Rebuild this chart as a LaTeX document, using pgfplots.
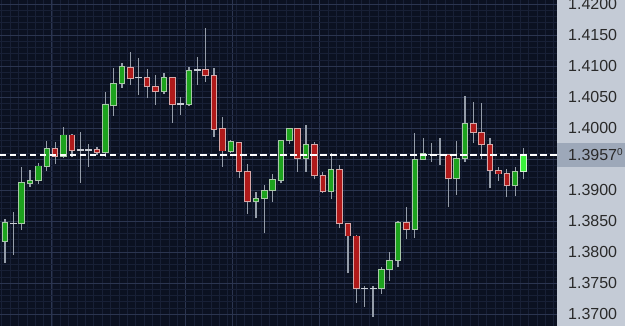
\documentclass[border=0pt]{standalone}
\usepackage{pgfplots}
\pgfplotsset{compat=1.18}
\usepackage{pgfplotstable}
\usepackage{fontspec}
\setmainfont{Liberation Sans}

\definecolor{bgnavy}{HTML}{0B1121}
\definecolor{gridmaj}{HTML}{2B3550}
\definecolor{gridmin}{HTML}{182036}
\definecolor{greenfill}{HTML}{1DA31D}
\definecolor{greenborder}{HTML}{A8C8A8}
\definecolor{redfill}{HTML}{B01A1A}
\definecolor{redborder}{HTML}{D8A8A8}
\definecolor{brightgreen}{HTML}{3AF03A}
\definecolor{brightborder}{HTML}{D0F0D0}
\definecolor{wick}{HTML}{959DA9}
\definecolor{dojicol}{HTML}{C8CCD4}
\definecolor{panel}{HTML}{C4CBD6}
\definecolor{hilite}{HTML}{9DA8B9}
\definecolor{labeltext}{HTML}{2A2A2A}

% i  Open  High  Low  Close
\pgfplotstableread{
i O H L C
0 1.38177 1.38532 1.37823 1.38468
2 1.38452 1.39376 1.38355 1.39118
3 1.39108 1.39323 1.39053 1.39161
4 1.39150 1.39440 1.39097 1.39387
5 1.39376 1.39795 1.39311 1.39677
7 1.39548 1.40021 1.39511 1.39887
12 1.39602 1.40585 1.39537 1.40371
13 1.40355 1.40963 1.40194 1.40721
14 1.40721 1.41053 1.40650 1.40989
19 1.40585 1.40892 1.40548 1.40818
22 1.40382 1.40989 1.40355 1.40935
27 1.39618 1.39800 1.39600 1.39779
30 1.38811 1.38973 1.38544 1.38866
31 1.38866 1.39081 1.38302 1.38989
32 1.38989 1.39258 1.38811 1.39173
33 1.39161 1.39800 1.39108 1.39795
34 1.39795 1.40000 1.39742 1.39995
36 1.39511 1.40048 1.39295 1.39726
39 1.38973 1.39592 1.38850 1.39334
45 1.37415 1.37763 1.37323 1.37721
46 1.37721 1.38005 1.37537 1.37860
47 1.37860 1.38505 1.37753 1.38473
49 1.38366 1.39915 1.38221 1.39495
50 1.39495 1.39834 1.39495 1.39592
54 1.39189 1.39795 1.38919 1.39511
55 1.39511 1.40516 1.39456 1.40076
61 1.39065 1.39376 1.38903 1.39295
}\greentab

\pgfplotstableread{
i O H L C
6 1.39677 1.39779 1.39419 1.39548
8 1.39887 1.39900 1.39532 1.39634
11 1.39656 1.39689 1.39565 1.39602
15 1.40979 1.41231 1.40694 1.40802
17 1.40818 1.40947 1.40479 1.40677
18 1.40677 1.40855 1.40371 1.40585
20 1.40818 1.40830 1.40085 1.40382
24 1.40947 1.41608 1.40747 1.40839
25 1.40839 1.40963 1.39860 1.39979
26 1.39989 1.40182 1.39376 1.39629
28 1.39763 1.39779 1.39189 1.39295
29 1.39295 1.39419 1.38613 1.38811
35 1.39995 1.40000 1.39295 1.39511
37 1.39726 1.39779 1.39173 1.39226
38 1.39226 1.39295 1.38957 1.38973
40 1.39334 1.39403 1.38382 1.38463
41 1.38463 1.38470 1.37656 1.38258
42 1.38258 1.38274 1.37182 1.37415
48 1.38473 1.38721 1.38205 1.38366
53 1.39565 1.39580 1.38721 1.39189
56 1.40076 1.40424 1.39763 1.39924
57 1.39924 1.40398 1.39495 1.39726
58 1.39726 1.39834 1.39027 1.39311
59 1.39311 1.39366 1.39150 1.39258
60 1.39269 1.39334 1.38882 1.39065
}\redtab

\pgfplotstableread{
i O H L C
1 1.38463 1.38650 1.37952 1.38463
9 1.39645 1.39940 1.39118 1.39645
10 1.39645 1.39742 1.39376 1.39645
16 1.40811 1.41124 1.40532 1.40811
21 1.40387 1.40495 1.40210 1.40387
23 1.40935 1.41140 1.40694 1.40935
43 1.37415 1.37452 1.37118 1.37415
44 1.37415 1.37452 1.36956 1.37415
51 1.39576 1.39753 1.39456 1.39576
52 1.39576 1.39834 1.39403 1.39576
}\dojitab

\pgfplotstableread{
i O H L C
62 1.39295 1.39672 1.39173 1.39570
}\lasttab

\pgfplotsset{
  wickstyle/.style={draw=none, mark=none, forget plot,
    error bars/.cd, y dir=plus, y explicit, error mark=none,
    error bar style={draw=wick, solid, line width=1.3pt}},
  bodystyle/.style 2 args={draw=none, mark=none, forget plot,
    error bars/.cd, y dir=plus, y explicit, error mark=none,
    error bar style={draw=#2, solid, line width=#1}},
}

\begin{document}
\begin{tikzpicture}
\useasboundingbox (0,0) rectangle (625pt,326pt);
\clip (0,0) rectangle (625pt,326pt);
\fill[panel] (557pt,0) rectangle (625pt,326pt);
\fill[hilite] (557pt,159pt) rectangle (625pt,183pt);
\begin{axis}[
  at={(0,0)}, anchor=south west,
  width=557pt, height=326pt, scale only axis,
  xmin=-0.6, xmax=66, ymin=1.368065, ymax=1.420645,
  axis background/.style={fill=bgnavy},
  axis line style={draw=none},
  xtick={5.6,21.6,27.15,37.6}, xticklabels={},
  minor xtick={-0.4,0.6,...,65.6},
  ytick={1.370,1.375,1.380,1.385,1.390,1.395,1.400,1.405,1.410,1.415,1.420},
  yticklabels={1.3700,1.3750,1.3800,1.3850,1.3900,{},1.4000,1.4050,1.4100,1.4150,1.4200},
  minor y tick num=4,
  grid=both,
  major grid style={color=gridmaj, line width=0.8pt},
  minor grid style={color=gridmin, line width=0.5pt},
  major tick length=0pt, minor tick length=0pt,
  yticklabel pos=right,
  yticklabel style={anchor=west, inner sep=0pt, xshift=11pt,
    font=\fontsize{16}{16}\selectfont, text=labeltext},
  extra y ticks={1.3957},
  extra y tick labels={1.3957\raisebox{5pt}{\fontsize{10}{10}\selectfont 0}},
  extra y tick style={grid=none},
]
% wicks
\addplot[wickstyle] table[x=i, y=L, y error plus expr={\thisrow{H}-\thisrow{L}}]{\greentab};
\addplot[wickstyle] table[x=i, y=L, y error plus expr={\thisrow{H}-\thisrow{L}}]{\redtab};
\addplot[wickstyle] table[x=i, y=L, y error plus expr={\thisrow{H}-\thisrow{L}}]{\dojitab};
\addplot[wickstyle] table[x=i, y=L, y error plus expr={\thisrow{H}-\thisrow{L}}]{\lasttab};
% doji bars
\addplot[bodystyle={7pt}{dojicol}] table[x=i, y expr={\thisrow{O}-0.00012}, y error plus expr={0.00024}]{\dojitab};
% green bodies
\addplot[bodystyle={6.5pt}{greenborder}] table[x=i, y expr={min(\thisrow{O},\thisrow{C})-0.00008}, y error plus expr={abs(\thisrow{C}-\thisrow{O})+0.00016}]{\greentab};
\addplot[bodystyle={4.5pt}{greenfill}] table[x=i, y expr={min(\thisrow{O},\thisrow{C})+0.00008}, y error plus expr={abs(\thisrow{C}-\thisrow{O})-0.00016}]{\greentab};
% red bodies
\addplot[bodystyle={6.5pt}{redborder}] table[x=i, y expr={min(\thisrow{O},\thisrow{C})-0.00008}, y error plus expr={abs(\thisrow{C}-\thisrow{O})+0.00016}]{\redtab};
\addplot[bodystyle={4.5pt}{redfill}] table[x=i, y expr={min(\thisrow{O},\thisrow{C})+0.00008}, y error plus expr={abs(\thisrow{C}-\thisrow{O})-0.00016}]{\redtab};
% last candle
\addplot[bodystyle={6.5pt}{brightborder}] table[x=i, y expr={min(\thisrow{O},\thisrow{C})-0.00008}, y error plus expr={abs(\thisrow{C}-\thisrow{O})+0.00016}]{\lasttab};
\addplot[bodystyle={4.5pt}{brightgreen}] table[x=i, y expr={min(\thisrow{O},\thisrow{C})+0.00008}, y error plus expr={abs(\thisrow{C}-\thisrow{O})-0.00016}]{\lasttab};
% current price line
\addplot[white, line width=2pt, dash pattern=on 6.5pt off 3.5pt] coordinates {(-0.6,1.3957) (66,1.3957)};
\end{axis}
\end{tikzpicture}
\end{document}
